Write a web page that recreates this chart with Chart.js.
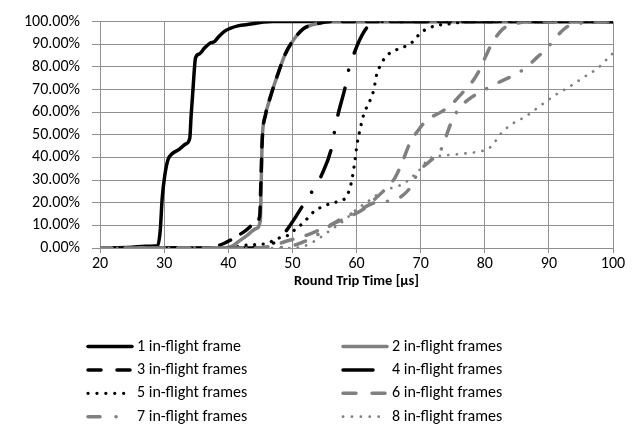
<!DOCTYPE html>
<html>
<head>
<meta charset="utf-8">
<script src="https://cdn.jsdelivr.net/npm/chart.js@4/dist/chart.umd.min.js"></script>
<style>
  html, body { margin: 0; padding: 0; background: #fff; }
  #wrap { width: 642px; height: 424px; }
</style>
</head>
<body>
<div id="wrap"><canvas id="c" width="642" height="424"></canvas></div>
<script>
// Round trip time CDFs, one curve per number of in-flight frames.
// Each point is [round trip time in µs, cumulative share in %].
const seriesNames = [
  '1 in-flight frame', '2 in-flight frames', '3 in-flight frames', '4 in-flight frames',
  '5 in-flight frames', '6 in-flight frames', '7 in-flight frames', '8 in-flight frames'
];

const frames1 = [[20,0],[25,0.3],[27,0.8],[29,1],[29.4,8],[29.7,22],[30.1,32],[30.6,39],[31.2,41.5],
  [32.3,43.5],[33.4,46],[34.0,48.5],[34.2,58],[34.5,70],[34.9,84],[35.5,85.7],[36.3,88.3],[37.1,90.4],
  [37.9,91.3],[38.5,93.3],[39.3,95.5],[40.3,97],[41.5,98.1],[43.5,98.9],[45.5,99.8],[47,100],[100,100]];

const frames2 = [[20,0],[38,0],[40.3,0.5],[41.9,3.5],[42.9,5.5],[44.3,8.5],[45.0,12],[45.15,30],[45.3,48],
  [45.8,58.7],[46.6,67],[47.6,75.7],[48.9,85.7],[50.2,92],[51.8,97],[53.9,99.1],[56,100],[100,100]];

const frames3 = [[20,0],[36,0],[38.7,1.3],[40.3,3.4],[42.7,7.7],[44.2,11],[44.9,14],[45.1,30],[45.3,48],
  [45.8,58.7],[46.6,67],[47.6,75.7],[48.9,85.7],[50.2,92],[51.8,97],[53.9,99.1],[56,100],[100,100]];

const frames4 = [[20,0],[43,0],[45,0.5],[46.5,1.5],[48,4],[49.4,9],[52,20.4],[53.3,26],[54.6,32.5],
  [56.2,45.3],[56.6,52],[57.1,58.7],[58.3,71.8],[58.8,78.9],[59.5,85],[60.5,92],[61.6,97.3],[63,100],[100,100]];

const frames5 = [[20,0],[40,0],[42.9,1.3],[46,2],[47.5,4],[49.7,6.2],[50.7,9],[51.8,11.2],[52.6,14],
  [53.6,16.6],[54.9,18.5],[56.2,19.9],[57.5,20.8],[58.5,23],[59.2,29],[59.7,37.4],[60.1,46],[60.5,51.6],
  [61.1,58.7],[62.2,65.8],[62.7,70],[63.2,77.2],[63.75,80.7],[64.5,84.3],[66.4,87.8],[68.1,89.7],
  [69.2,92.3],[69.9,94.9],[71,96.7],[72.3,98.2],[73.6,98.7],[74.9,99.1],[77,100],[100,100]];

const frames6 = [[20,0],[44,0],[47,1],[49,3],[51,4.5],[53,6.5],[55,9],[57,11.5],[59,14],[61,17],[63,22],
  [64.5,26],[66,31],[67,37],[68.4,46.8],[69.5,51.5],[71,56.6],[73.1,59.9],[74.9,63.7],[76.5,68.5],
  [78.1,73.6],[79.3,79.3],[80.2,85],[81.2,90.7],[82.8,96.7],[84.6,98.9],[87,100],[100,100]];

const frames7 = [[20,0],[47,0],[50,1],[52,3],[54,6],[56,10],[57.8,13.3],[60,16],[62.7,19.9],[66.4,21.8],
  [68.7,28],[69.5,33],[71.3,38],[73.1,43],[73.9,48.8],[74.8,55.6],[76,61.6],[77.6,65.9],[79.8,69.6],
  [82,72.9],[84.1,75.7],[86.25,79.3],[88.2,84.3],[89.8,88.5],[91.4,94],[93,98],[95.5,99.5],[97,100],[100,100]];

const frames8 = [[20,0],[50,0],[52,1],[54,4],[56,8],[58,12],[60,17],[62,21],[64,25],[66,27],[67.3,28.3],
  [68.5,31],[70.3,36],[71,38.9],[72.3,40.3],[74.1,41],[76,41.5],[79.3,42.7],[80.5,43.8],[81.4,46],
  [82.1,49.1],[83,51.9],[84.1,54.5],[86.5,58.3],[88.6,62.7],[90.8,67.2],[93.2,71.2],[95.4,75.4],
  [97.7,79.6],[99.6,85],[100,86]];

const seriesData = [frames1, frames2, frames3, frames4, frames5, frames6, frames7, frames8];

// Axis ranges and tick steps
const xMin = 20, xMax = 100, xStep = 10;
const yMin = 0, yMax = 100, yStep = 10;

// Line styles per series (dash = pattern in the plot, keyDash = pattern in the legend key)
const BLACK = '#000000', GRAY = '#808080';
const lineStyles = [
  { color: BLACK, width: 3.5, dash: [],                 keyDash: [] },
  { color: GRAY,  width: 3.5, dash: [],                 keyDash: [] },
  { color: BLACK, width: 3.5, dash: [12, 12],           keyDash: [13, 16] },
  { color: BLACK, width: 3.5, dash: [28, 18, 0.1, 18], keyDash: [30, 20, 0.1, 20] },
  { color: BLACK, width: 3.2, dash: [0.1, 8.5],         keyDash: [0.1, 8.8] },
  { color: GRAY,  width: 3.5, dash: [12, 14],           keyDash: [13, 16] },
  { color: GRAY,  width: 3.5, dash: [11, 14, 0.1, 14], keyDash: [12, 16, 0.1, 16] },
  { color: GRAY,  width: 2.7, dash: [0.1, 8.5],         keyDash: [0.1, 8.8] }
];

const FONT = "Carlito, Calibri, Lato, 'Liberation Sans', sans-serif";
const GRID = '#909090';

const datasets = seriesData.map((pts, i) => ({
  label: seriesNames[i],
  data: pts.map(p => ({ x: p[0], y: p[1] })),
  borderColor: lineStyles[i].color,
  backgroundColor: lineStyles[i].color,
  borderWidth: lineStyles[i].width,
  borderDash: lineStyles[i].dash,
  borderCapStyle: 'round',
  borderJoinStyle: 'round',
  cubicInterpolationMode: 'monotone',
  pointRadius: 0,
  fill: false,
  order: seriesNames.length - i
}));

// Two-column legend below the axis title
const gridLegend = {
  id: 'gridLegend',
  afterDraw(chart) {
    const ctx = chart.ctx;
    chart.data.datasets.forEach((ds, i) => {
      const col = i % 2, row = Math.floor(i / 2);
      const x0 = col === 0 ? 88 : 343;
      const y = 346.5 + row * 23.4;
      ctx.save();
      ctx.strokeStyle = ds.borderColor;
      ctx.lineWidth = ds.borderWidth;
      ctx.lineCap = 'round';
      ctx.setLineDash(lineStyles[i].keyDash);
      ctx.beginPath();
      ctx.moveTo(x0, y);
      ctx.lineTo(x0 + 44, y);
      ctx.stroke();
      ctx.setLineDash([]);
      ctx.fillStyle = '#000';
      ctx.font = '16px ' + FONT;
      ctx.textBaseline = 'middle';
      ctx.textAlign = 'left';
      ctx.fillText(ds.label, x0 + 49, y);
      ctx.restore();
    });
  }
};

new Chart(document.getElementById('c'), {
  type: 'line',
  data: { datasets },
  plugins: [gridLegend],
  options: {
    responsive: false,
    animation: false,
    layout: { padding: { top: 13, right: 29, bottom: 134, left: 0 } },
    plugins: { legend: { display: false }, tooltip: { enabled: false } },
    scales: {
      x: {
        type: 'linear',
        min: xMin, max: xMax,
        ticks: { stepSize: xStep, color: '#000', font: { family: FONT, size: 16 }, padding: 1, maxRotation: 0 },
        grid: { color: GRID, lineWidth: 1, tickLength: 5, drawTicks: true },
        border: { color: GRID, width: 1 },
        title: { display: true, text: 'Round Trip Time [µs]', color: '#000',
                 font: { family: FONT, size: 14.5, weight: 'bold' }, padding: { top: 0, bottom: 0 } },
        afterFit(scale) { scale.height = 42; }
      },
      y: {
        min: yMin, max: yMax,
        ticks: { stepSize: yStep, color: '#000', font: { family: FONT, size: 16 }, padding: 12,
                 autoSkip: false, callback: v => v.toFixed(2) + '%' },
        grid: { color: GRID, lineWidth: 1, tickLength: 8, drawTicks: true },
        border: { color: GRID, width: 1 },
        afterFit(scale) { scale.width = 100; }
      }
    }
  }
});
</script>
</body>
</html>
